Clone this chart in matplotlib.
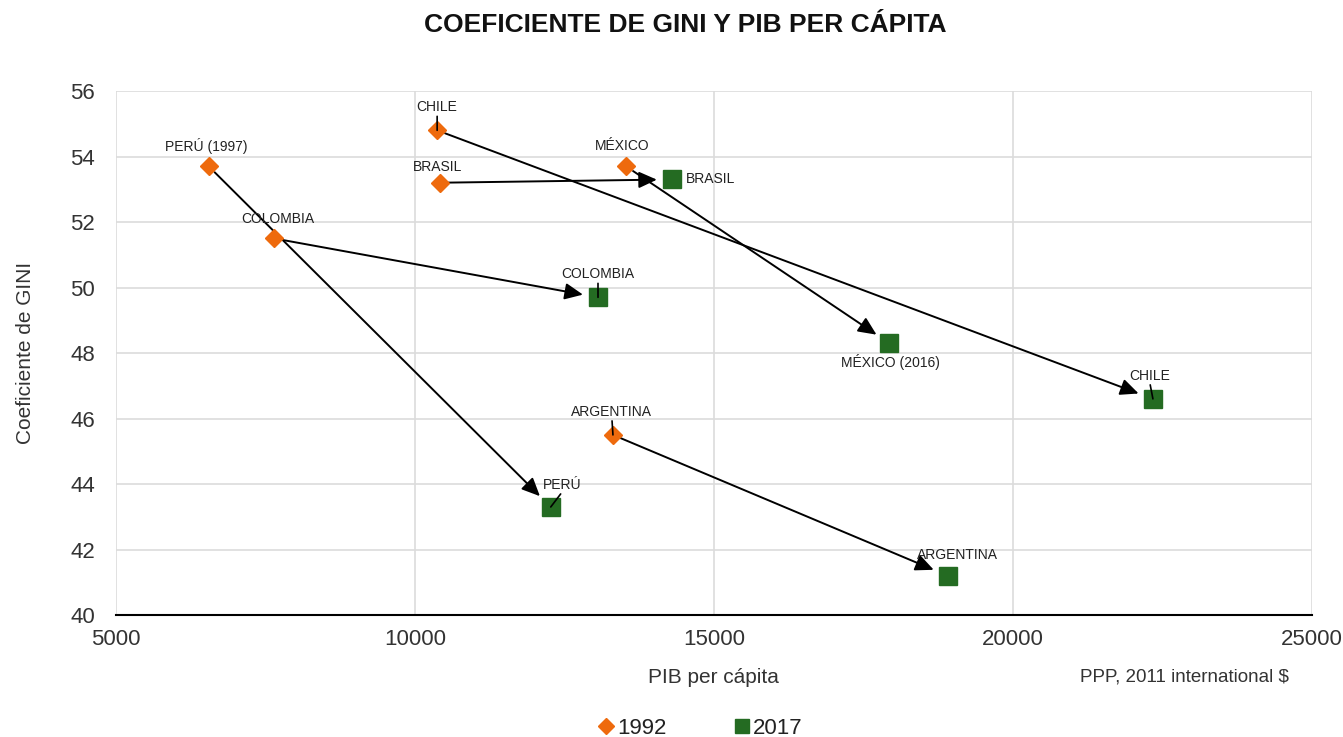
import matplotlib.pyplot as plt
from matplotlib.lines import Line2D

plt.rcParams['font.family'] = ['Liberation Sans', 'DejaVu Sans']

# Data: GDP per capita (PPP, 2011 intl $) and Gini coefficient
countries = ['PERÚ', 'COLOMBIA', 'CHILE', 'BRASIL', 'MÉXICO', 'ARGENTINA']
pib_1992 = [6550, 7640, 10370, 10420, 13530, 13310]
gini_1992 = [53.7, 51.5, 54.8, 53.2, 53.7, 45.5]
pib_2017 = [12270, 13060, 22340, 14300, 17930, 18910]
gini_2017 = [43.3, 49.7, 46.6, 53.3, 48.3, 41.2]

labels_1992 = ['PERÚ (1997)', 'COLOMBIA', 'CHILE', 'BRASIL', 'MÉXICO', 'ARGENTINA']
labels_2017 = ['PERÚ', 'COLOMBIA', 'CHILE', 'BRASIL', 'MÉXICO (2016)', 'ARGENTINA']

orange = '#EE6A0D'
green = '#246B22'

fig = plt.figure(figsize=(13.43, 7.37), dpi=100)
ax = fig.add_axes([0.0864, 0.1655, 0.8905, 0.711])

# arrows from 1992 to 2017
for x0, y0, x1, y1 in zip(pib_1992, gini_1992, pib_2017, gini_2017):
    ax.annotate('', xy=(x1, y1), xytext=(x0, y0),
                arrowprops=dict(arrowstyle='-|>,head_length=0.55,head_width=0.25', color='black',
                                lw=1.4, shrinkA=6, shrinkB=11, mutation_scale=20),
                zorder=3)

ax.plot(pib_1992, gini_1992, 'D', color=orange, markersize=9, zorder=4, linestyle='none')
ax.plot(pib_2017, gini_2017, 's', color=green, markersize=13, zorder=4, linestyle='none')

# label offsets in pixels (dx, dy, ha, leader)
off_1992 = [(-2, 20, 'center', False), (4, 19, 'center', False), (0, 23, 'center', True),
            (-3, 16, 'center', False), (-4, 20, 'center', False), (-1, 23, 'center', True)]
off_2017 = [(11, 22, 'center', True), (0, 23, 'center', True), (-3, 23, 'center', True),
            (14, 0, 'left', False), (1, -19, 'center', False), (10, 21, 'center', False)]

def put_labels(xs, ys, labels, offs):
    for x, y, lab, (dx, dy, ha, lead) in zip(xs, ys, labels, offs):
        ax.annotate(lab, xy=(x, y), xytext=(dx, dy), textcoords='offset pixels',
                    ha=ha, va='center', fontsize=10, color='#222222', zorder=5)
        if lead:
            ax.annotate('', xy=(x, y), xytext=(dx * 0.9, dy - 9), textcoords='offset pixels',
                        arrowprops=dict(arrowstyle='-', color='black', lw=1.2,
                                        shrinkA=0, shrinkB=0), zorder=5)

put_labels(pib_1992, gini_1992, labels_1992, off_1992)
put_labels(pib_2017, gini_2017, labels_2017, off_2017)

ax.set_xlim(5000, 25000)
ax.set_ylim(40, 56)
ax.set_xticks(range(5000, 25001, 5000))
ax.set_yticks(range(40, 57, 2))
ax.grid(True, color='#dcdcdc', lw=1.2)
ax.set_axisbelow(True)
for s in ['left', 'right', 'top']:
    ax.spines[s].set_visible(False)
ax.spines['bottom'].set_color('black')
ax.spines['bottom'].set_linewidth(1.5)
ax.tick_params(length=0, labelsize=16, colors='#333333')
ax.tick_params(axis='x', pad=10)
ax.tick_params(axis='y', pad=15)

ax.set_ylabel('Coeficiente de GINI', fontsize=15, color='#333333')
ax.yaxis.set_label_coords(-0.068, 0.5)
fig.text(0.531, 0.081, 'PIB per cápita', fontsize=15, color='#333333', ha='center', va='center')
fig.text(0.882, 0.081, 'PPP, 2011 international $', fontsize=13.5, color='#333333', ha='center', va='center')

fig.suptitle('COEFICIENTE DE GINI Y PIB PER CÁPITA', fontsize=19, fontweight='bold',
             x=0.51, y=0.983, color='#111111')

handles = [Line2D([], [], marker='D', color=orange, linestyle='none', markersize=8),
           Line2D([], [], marker='s', color=green, linestyle='none', markersize=10)]
fig.legend(handles, ['1992', '2017'], loc='center', bbox_to_anchor=(0.521, 0.012),
           ncol=2, frameon=False, fontsize=16, handletextpad=0.1, columnspacing=3.0,
           handlelength=0.8, labelcolor='#222222')

fig.savefig('out.png', dpi=100)
